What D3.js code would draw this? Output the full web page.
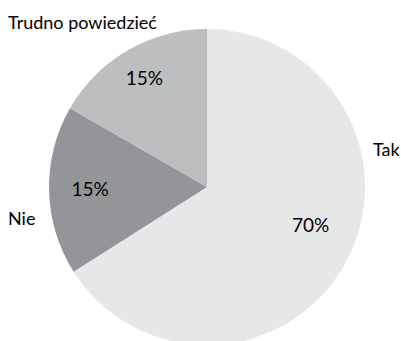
<!DOCTYPE html>
<html>
<head>
<meta charset="utf-8">
<script src="https://cdn.jsdelivr.net/npm/d3@7"></script>
<style>
  html, body { margin: 0; padding: 0; background: #fff; }
  svg { display: block; }
  text { font-family: Lato, "Noto Sans", sans-serif; fill: #000; }
</style>
</head>
<body>
<div id="chart"></div>
<script>
"use strict";

// Categories, clockwise from 12 o'clock.
const categories = ["Tak", "Nie", "Trudno powiedzieć"];
// Printed values.
const valueLabels = ["70%", "15%", "15%"];
// Slice sizes as actually drawn in the picture (the artwork is not exact to the labels).
const drawnShares = [66, 17.3, 16.7];
const sliceColors = ["#e6e7e8", "#939598", "#bcbec0"];

const width = 401, height = 341;
const cx = 207, cy = 187, radius = 158;

const svg = d3.select("#chart").append("svg")
    .attr("width", width)
    .attr("height", height);

const g = svg.append("g").attr("transform", `translate(${cx},${cy})`);

const data = categories.map((c, i) => ({ name: c, share: drawnShares[i], label: valueLabels[i], color: sliceColors[i] }));

const pie = d3.pie().sort(null).value(d => d.share);
const arcs = pie(data);

const arc = d3.arc().innerRadius(0).outerRadius(radius);

g.selectAll(".slice").data(arcs).enter().append("path")
    .attr("class", "slice")
    .attr("d", arc)
    .style("fill", d => d.data.color)
    .style("stroke", "none");

// Percent labels sit near the slice centroid, with small nudges to match the artwork.
const pctRadius = [117, 117, 125];
const pctNudge = [[1, -17], [0, 0], [0, 0]];
g.selectAll(".pct").data(arcs).enter().append("text")
    .attr("class", "pct")
    .style("font-size", "19px")
    .style("text-anchor", "middle")
    .attr("x", (d, i) => d3.arc().innerRadius(pctRadius[i]).outerRadius(pctRadius[i]).centroid(d)[0] + pctNudge[i][0])
    .attr("y", (d, i) => d3.arc().innerRadius(pctRadius[i]).outerRadius(pctRadius[i]).centroid(d)[1] + pctNudge[i][1] + 6)
    .text(d => d.data.label);

// Category names outside the pie.
const namePos = [
    { x: 373, y: 156, anchor: "start" },
    { x: 8, y: 225, anchor: "start" },
    { x: 8, y: 29, anchor: "start" }
];
svg.selectAll(".name").data(data).enter().append("text")
    .attr("class", "name")
    .style("font-size", "18px")
    .style("text-anchor", (d, i) => namePos[i].anchor)
    .attr("x", (d, i) => namePos[i].x)
    .attr("y", (d, i) => namePos[i].y)
    .text(d => d.name);
</script>
</body>
</html>
